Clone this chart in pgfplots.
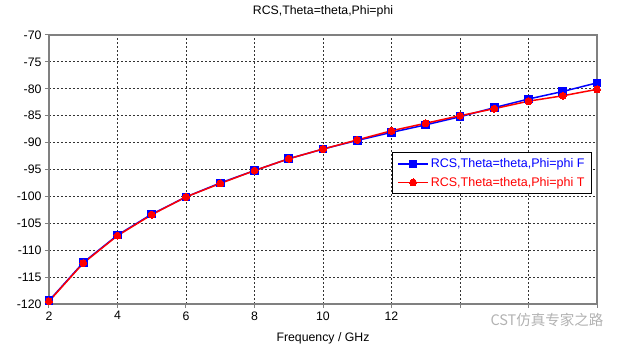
\documentclass[border=0pt]{standalone}
\usepackage{pgfplots}
\pgfplotsset{compat=1.18}
\usepackage{fontspec}
\setmainfont{Liberation Sans}
\newfontfamily\cjk{Noto Sans CJK SC}
\definecolor{cstblue}{RGB}{0,0,255}
\definecolor{cstred}{RGB}{255,0,0}
\definecolor{axgray}{RGB}{128,128,128}
\begin{document}
\begin{tikzpicture}
\begin{axis}[
  name=ax,
  scale only axis,
  width=548pt, height=269pt,
  xmin=2, xmax=18, ymin=-120, ymax=-70,
  xtick={2,4,...,18},
  xticklabels={2,4,6,8,10,12,,,},
  ytick={-120,-115,...,-70},
  /pgf/number format/assume math mode=true,
  ticklabel style={font=\fontsize{12.3}{14}\selectfont},
  tick align=outside,
  major tick length=4pt,
  xtick pos=bottom, ytick pos=left,
  tick style={axgray, line width=1pt},
  axis line style={axgray, line width=1.6pt},
  grid=major,
  major grid style={black!80, line width=0.8pt, dash pattern=on 2pt off 2pt},
  title={RCS,Theta=theta,Phi=phi},
  title style={font=\fontsize{12.3}{14}\selectfont, at={(0.5,1)}, anchor=base, yshift=14pt},
  xlabel={Frequency / GHz},
  xlabel style={font=\fontsize{12.3}{14}\selectfont, at={(0.5,0)}, anchor=base, yshift=-38pt},
  legend style={at={(0.991,0.565)}, anchor=north east, draw=black, line width=1.3pt,
    fill=white, font=\fontsize{12.5}{14}\selectfont, inner xsep=5pt, inner ysep=4pt, row sep=4pt,
    cells={anchor=west}},
  legend cell align=left,
  legend image code/.code={
    \draw[#1, line width=1.5pt, mark repeat=2, mark phase=2] plot coordinates {(0pt,0pt) (15pt,0pt) (30pt,0pt)};
  },
]
\addplot[cstblue, line width=1.5pt, mark=square*, mark size=3.8pt, mark options={solid, fill=cstblue, line width=0pt}] coordinates {
(2,-119.4) (3,-112.3) (4,-107.2) (5,-103.3) (6,-100.1) (7,-97.5) (8,-95.2) (9,-93.0)
(10,-91.2) (11,-89.6) (12,-88.1) (13,-86.7) (14,-85.2) (15,-83.5) (16,-81.9) (17,-80.5) (18,-78.9)
};
\addlegendentry{\textcolor{cstblue}{RCS,Theta=theta,Phi=phi F}}
\addplot[cstred, line width=1.5pt, mark=*, mark size=3.5pt, mark options={solid, fill=cstred, line width=0pt}] coordinates {
(2,-119.5) (3,-112.4) (4,-107.3) (5,-103.4) (6,-100.1) (7,-97.6) (8,-95.2) (9,-93.0)
(10,-91.2) (11,-89.5) (12,-87.8) (13,-86.4) (14,-85.0) (15,-83.7) (16,-82.3) (17,-81.3) (18,-80.1)
};
\addlegendentry{\textcolor{cstred}{RCS,Theta=theta,Phi=phi T}}
\end{axis}
\node[anchor=base west, text=black!30, font=\cjk\fontsize{14.5}{16}\selectfont] at ([xshift=438pt, yshift=-22pt]ax.south west) {CST仿真专家之路};
\path ([xshift=-49pt, yshift=-45pt]ax.south west) rectangle ([xshift=27pt, yshift=35pt]ax.north east);
\end{tikzpicture}
\end{document}
